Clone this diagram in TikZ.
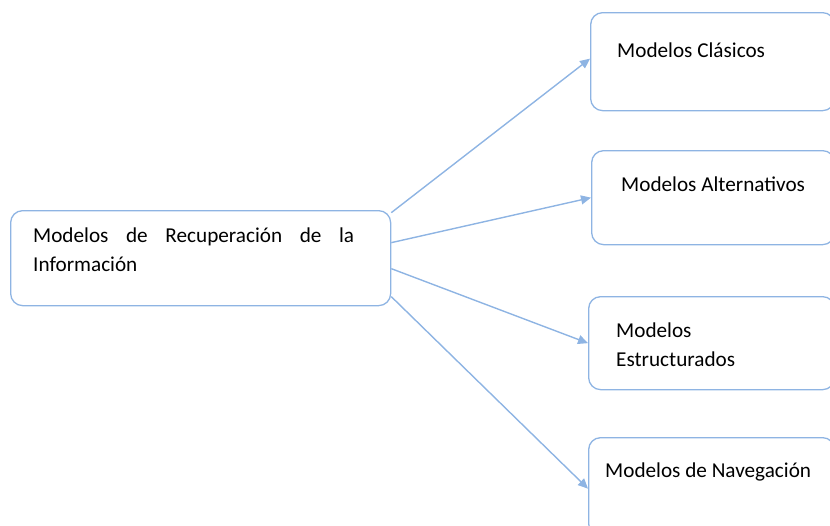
\documentclass[tikz,border=0pt]{standalone}
\usepackage{fontspec}
\setmainfont{Carlito}
\usetikzlibrary{arrows.meta,calc}
\definecolor{linkblue}{HTML}{8EB4E3}
\tikzset{
  box/.style={draw=linkblue, line width=1.3pt, rounded corners=12pt, fill=white, inner sep=0pt},
  label/.style={anchor=base west, inner sep=0pt, font=\fontsize{21.2}{29}\selectfont, text=black},
  link/.style={draw=linkblue, line width=1.4pt, -{Triangle[length=10pt,width=9pt]}}
}
\begin{document}
\begin{tikzpicture}[x=1pt,y=-1pt]
  \useasboundingbox (0,0) rectangle (830,525);
  \clip (0,0) rectangle (830,525);

  % boxes
  \node[box, minimum width=380pt, minimum height=95pt, anchor=north west] (main) at (10,210) {};
  \node[box, minimum width=244pt, minimum height=98pt, anchor=north west] (c1) at (590,12) {};
  \node[box, minimum width=243pt, minimum height=94pt, anchor=north west] (c2) at (591,150) {};
  \node[box, minimum width=246pt, minimum height=93pt, anchor=north west] (c3) at (588,296) {};
  \node[box, minimum width=246pt, minimum height=98pt, anchor=north west] (c4) at (588,437) {};

  % texts
  \node[label] (t0a) at (33,242) {\makebox[321pt][s]{Modelos de Recuperación de la}};
  \node[label] (t0b) at (33,271) {Información};
  \node[label] (t1) at (617,57) {Modelos Clásicos};
  \node[label] (t2) at (621,191) {Modelos Alternativos};
  \node[label] (t3a) at (616,337) {Modelos};
  \node[label] (t3b) at (616,366) {Estructurados};
  \node[label] (t4) at (605,477) {Modelos de Navegación};

  % connectors
  \draw[link] ($(main.east)+(0,-45.5)$) -- ($(c1.west)+(0,-3)$);
  \draw[link] ($(main.east)+(0,-15.5)$) -- (c2.west);
  \draw[link] ($(main.east)+(0,10.5)$) -- (c3.west);
  \draw[link] ($(main.east)+(0,38.5)$) -- ($(c4.west)+(0,2)$);
\end{tikzpicture}
\end{document}
